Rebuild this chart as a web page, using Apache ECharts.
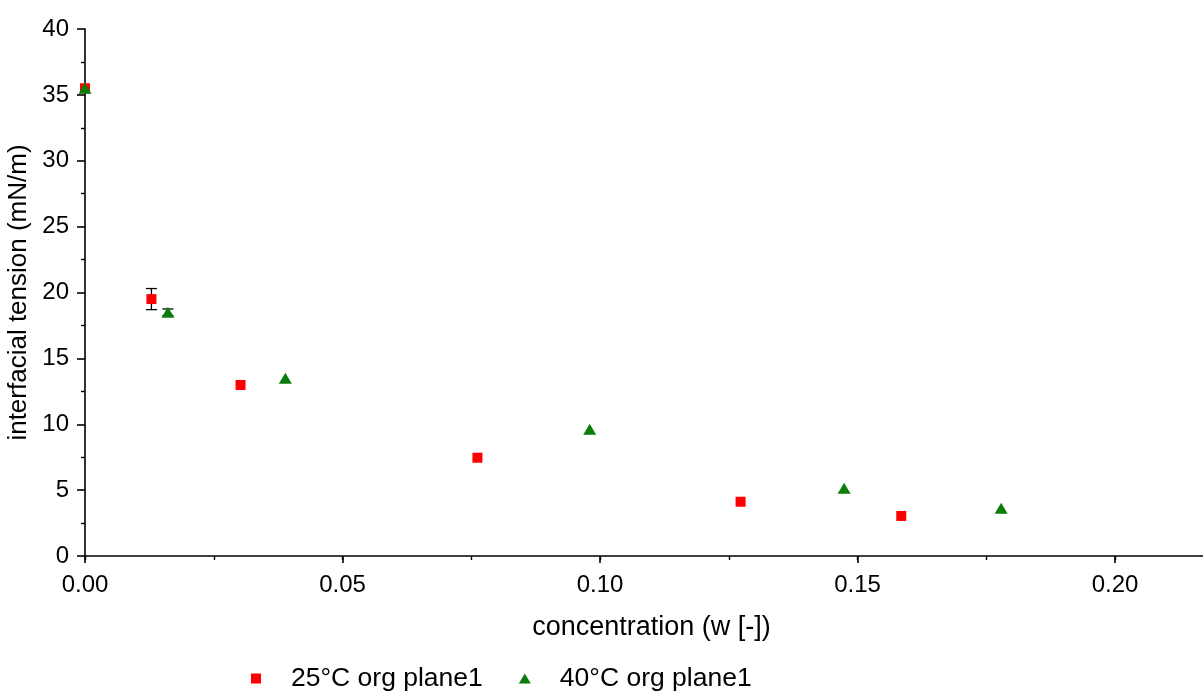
<!DOCTYPE html>
<html>
<head>
<meta charset="utf-8">
<script src="https://cdn.jsdelivr.net/npm/echarts@6/dist/echarts.min.js"></script>
<style>
  html, body { margin: 0; padding: 0; background: #ffffff; }
  #chart { width: 1203px; height: 691px; }
</style>
</head>
<body>
<div id="chart"></div>
<script>
// Interfacial tension vs. concentration, two temperatures
const seriesNames = ['25°C org plane1', '40°C org plane1'];

const conc25 = [0, 0.0129, 0.0302, 0.0762, 0.1273, 0.1585];
const tension25 = [35.5, 19.5, 12.98, 7.46, 4.12, 3.04];
const err25 = [0, 0.8, 0, 0, 0, 0];

const conc40 = [0, 0.0161, 0.0389, 0.0980, 0.1474, 0.1779];
const tension40 = [35.5, 18.5, 13.49, 9.62, 5.14, 3.62];
const err40 = [0, 0.25, 0, 0, 0, 0];

const xTickLabels = ['0.00', '0.05', '0.10', '0.15', '0.20'];
const yTickLabels = ['0', '5', '10', '15', '20', '25', '30', '35', '40'];

const FONT = '"Liberation Sans", Arial, sans-serif';
const RED = '#ff0000';
const GREEN = '#0a7d0a';

function pts(xs, ys) { return xs.map((x, i) => [x, ys[i]]); }
function errPts(xs, ys, es) { return xs.map((x, i) => [x, ys[i], es[i]]); }

function lookupLabel(list, step) {
  return function (v) {
    const idx = Math.round(v / step);
    if (Math.abs(v / step - idx) > 1e-6) return '';
    return list[idx] !== undefined ? list[idx] : '';
  };
}

// vertical error bar with short caps
function renderErr(params, api) {
  const x = api.value(0), y = api.value(1), e = api.value(2);
  if (!(e > 0)) return null;
  const top = api.coord([x, y + e]);
  const bot = api.coord([x, y - e]);
  const hw = 5.5;
  const style = { stroke: '#000', lineWidth: 1.3 };
  return {
    type: 'group',
    children: [
      { type: 'line', shape: { x1: top[0], y1: top[1], x2: bot[0], y2: bot[1] }, style },
      { type: 'line', shape: { x1: top[0] - hw, y1: top[1], x2: top[0] + hw, y2: top[1] }, style },
      { type: 'line', shape: { x1: bot[0] - hw, y1: bot[1], x2: bot[0] + hw, y2: bot[1] }, style }
    ]
  };
}

const chart = echarts.init(document.getElementById('chart'), null, { renderer: 'canvas' });

chart.setOption({
  animation: false,
  backgroundColor: '#ffffff',
  textStyle: { fontFamily: FONT, color: '#000' },
  grid: { left: 85, right: -15, top: 29, bottom: 135, containLabel: false, outerBoundsMode: 'none' },
  legend: {
    left: 246,
    top: 660,
    itemWidth: 12,
    itemHeight: 10,
    itemGap: 36,
    textStyle: { fontFamily: FONT, fontSize: 26.5, color: '#000', padding: [0, 0, 0, 24] },
    data: [
      { name: seriesNames[0], icon: 'path://M0,0L10,0L10,10L0,10Z' },
      { name: seriesNames[1], icon: 'triangle' }
    ]
  },
  xAxis: [
    {
      type: 'value',
      min: 0,
      max: 0.22,
      interval: 0.05,
      position: 'bottom',
      name: 'concentration (w [-])',
      nameLocation: 'middle',
      nameGap: 58,
      nameTextStyle: { fontFamily: FONT, fontSize: 27, color: '#000' },
      axisLine: { show: true, onZero: false, lineStyle: { color: '#000', width: 1.6 } },
      axisTick: { show: true, inside: false, length: 7, lineStyle: { color: '#000', width: 1.6 } },
      axisLabel: {
        show: true, margin: 17, fontFamily: FONT, fontSize: 24, color: '#000',
        showMaxLabel: false,
        formatter: lookupLabel(xTickLabels, 0.05)
      },
      splitLine: { show: false }
    },
    {
      // minor ticks halfway between labelled ticks
      type: 'value',
      min: 0,
      max: 0.22,
      interval: 0.025,
      position: 'bottom',
      axisLine: { show: false, onZero: false },
      axisTick: { show: true, inside: false, length: 4, lineStyle: { color: '#000', width: 1.4 } },
      axisLabel: { show: false },
      splitLine: { show: false }
    }
  ],
  yAxis: {
    type: 'value',
    min: 0,
    max: 40,
    interval: 5,
    name: 'interfacial tension (mN/m)',
    nameLocation: 'middle',
    nameGap: 49,
    nameTextStyle: { fontFamily: FONT, fontSize: 26, color: '#000' },
    axisLine: { show: true, onZero: false, lineStyle: { color: '#000', width: 1.6 } },
    axisTick: { show: true, inside: false, length: 8, lineStyle: { color: '#000', width: 1.6 } },
    minorTick: { show: true, splitNumber: 2, length: 4, lineStyle: { color: '#000', width: 1.4 } },
    axisLabel: {
      show: true, margin: 16, fontFamily: FONT, fontSize: 24, color: '#000',
      formatter: lookupLabel(yTickLabels, 5)
    },
    splitLine: { show: false },
    minorSplitLine: { show: false }
  },
  series: [
    {
      type: 'custom',
      name: 'err25',
      xAxisIndex: 0,
      renderItem: renderErr,
      data: errPts(conc25, tension25, err25),
      clip: false,
      z: 1
    },
    {
      type: 'custom',
      name: 'err40',
      xAxisIndex: 0,
      renderItem: renderErr,
      data: errPts(conc40, tension40, err40),
      clip: false,
      z: 1
    },
    {
      type: 'scatter',
      name: seriesNames[0],
      xAxisIndex: 0,
      symbol: 'rect',
      symbolSize: 10,
      itemStyle: { color: RED, opacity: 1 },
      data: pts(conc25, tension25),
      clip: false,
      z: 3
    },
    {
      type: 'scatter',
      name: seriesNames[1],
      xAxisIndex: 0,
      symbol: 'triangle',
      symbolSize: [13, 11],
      itemStyle: { color: GREEN, opacity: 1 },
      data: pts(conc40, tension40),
      clip: false,
      z: 4
    }
  ]
});
</script>
</body>
</html>
